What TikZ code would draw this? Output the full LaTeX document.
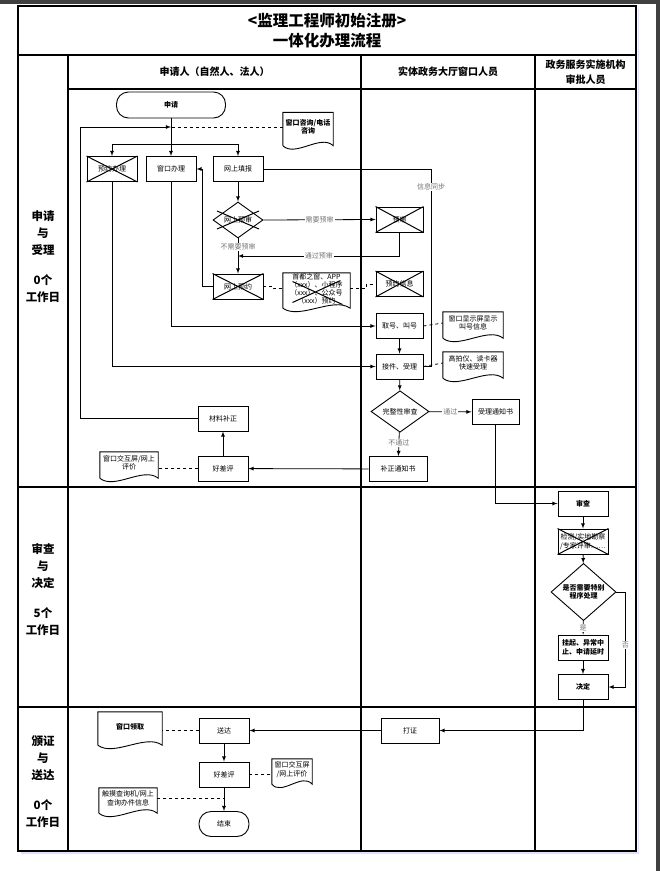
\documentclass[tikz,border=0pt]{standalone}
\usepackage{fontspec}
\setmainfont{Noto Sans CJK SC}
\usepackage{tikz}
\usetikzlibrary{arrows}
\usetikzlibrary{shapes.geometric,calc}

% outline of a document node: straight top and sides, wavy bottom
\newcommand{\docframe}[1]{%
  \draw[line width=0.9pt] ($(#1.south west)+(0,4)$) -- (#1.north west) -- (#1.north east) -- ($(#1.south east)+(0,4)$)
    .. controls ($(#1.south)!.5!(#1.south east)+(0,-8)$) and ($(#1.south)!.5!(#1.south west)+(0,16)$) .. ($(#1.south west)+(0,4)$);}

\begin{document}
\begin{tikzpicture}[x=1pt,y=-1pt,>=latex,
  every node/.style={font=\fontsize{7}{8.5}\selectfont},
  heavy/.style={font=\fontsize{7}{8.5}\selectfont\bfseries},
  box/.style={draw,line width=0.9pt,minimum width=50pt,minimum height=25pt,inner sep=0pt,align=center},
  term/.style={box,rounded corners=12pt},
  dec/.style={diamond,draw,line width=0.9pt,inner sep=0pt,align=center},
  doc/.style={inner sep=0pt,align=center},
  flow/.style={->,line width=0.8pt},
  hint/.style={dashed,line width=0.8pt},
  cond/.style={fill=white,text=black!55,inner sep=1pt},
  xline/.style={line width=1pt},
  frame/.style={line width=1.2pt},
  lane/.style={font=\fontsize{10}{15}\selectfont\bfseries,align=center},
  phase/.style={font=\fontsize{11.5}{17}\selectfont\bfseries,align=center}]
  \useasboundingbox (0,0) rectangle (660,871);
  \fill[white] (0,0) rectangle (660,871);
  \fill[black!75] (0,0) rectangle (660,4);
  \fill[black!75] (656,0) rectangle (660,871);

  % frame and lanes
  \draw[blue!12,line width=1.5pt] (21,853) -- (638.5,853) -- (638.5,9);
  \draw[frame] (18,6) rectangle (636,851);
  \draw[frame] (18,55) -- (636,55);
  \draw[frame] (68,89) -- (636,89);
  \draw[frame] (68,55) -- (68,851);
  \draw[frame] (361,55) -- (361,851);
  \draw[frame] (535,55) -- (535,851);
  \draw[frame] (18,487) -- (636,487);
  \draw[frame] (18,707) -- (636,707);

  \node[font=\fontsize{15.5}{20}\selectfont\bfseries,align=center] (title) at (327,31) {<监理工程师初始注册>\\一体化办理流程};
  \node[lane] (applicant) at (214.5,72) {申请人（自然人、法人）};
  \node[lane] (hall) at (448,72) {实体政务大厅窗口人员};
  \node[lane] (agency) at (585.5,72) {政务服务实施机构\\审批人员};
  \node[phase] (phaseA) at (43,257) {申请\\与\\受理\\[13pt]0个\\工作日};
  \node[phase] (phaseB) at (43,590) {审查\\与\\决定\\[13pt]5个\\工作日};
  \node[phase] (phaseC) at (43,782) {颁证\\与\\送达\\[13pt]0个\\工作日};

  % applying and accepting
  \node[term,heavy,minimum width=109pt,minimum height=26pt] (apply) at (171,105) {申请};
  \node[doc,heavy,minimum width=50pt,minimum height=29pt] (consult) at (308,127) {窗口咨询/电话\\咨询};
  \node[box] (pre) at (112,169) {预约办理};
  \node[box] (window) at (171,169) {窗口办理};
  \node[box] (online) at (238,169) {网上填报};
  \node[dec,minimum width=50pt,minimum height=36pt] (prejudge) at (238,220) {网上预审};
  \node[box] (netbook) at (238,286.5) {网上预约};
  \node[doc,font=\fontsize{7}{8}\selectfont,minimum width=67pt,minimum height=31pt] (capital) at (316.5,288.5) {首都之窗、APP\\（xxx）、小程序\\（xxx）、公众号\\（xxx）预约};
  \node[box,minimum width=47pt] (prechk) at (399.5,219.5) {预审};
  \node[box,minimum width=47pt] (bookinfo) at (399.5,284) {预约信息};
  \node[box,minimum width=47pt] (take) at (399.5,326) {取号、叫号};
  \node[box,minimum width=47pt] (accept) at (399.5,366.5) {接件、受理};
  \node[doc,minimum width=60pt,minimum height=22pt] (showdoc) at (473,323) {窗口显示屏显示\\叫号信息};
  \node[doc,minimum width=60pt,minimum height=22pt] (scandoc) at (473,363) {高拍仪、读卡器\\快速受理};
  \node[dec,minimum width=58pt,minimum height=37pt] (complete) at (400,411.5) {完整性审查};
  \node[box,minimum width=47pt] (notice) at (495.5,412) {受理通知书};
  \node[box,minimum width=58pt] (supp) at (398,469) {补正通知书};
  \node[box] (fix) at (223,418.5) {材料补正};
  \node[box] (rate) at (223,468.5) {好差评};
  \node[doc,minimum width=58pt,minimum height=22pt] (evalA) at (129,463) {窗口交互屏/网上\\评价};

  \coordinate (split) at (171,144);
  \coordinate (loop) at (80,127);
  \draw[line width=0.8pt] (apply.south) -- (split);
  \draw[flow] (split) -- (window.north);
  \draw[flow] (split) -| (pre.north);
  \draw[flow] (split) -| (online.north);
  \draw[hint] (consult.west) -- (consult.west -| split);
  \draw[flow] (fix.west) -| (loop) -- (loop -| split);
  \draw[line width=0.8pt] (online.east) -| ($(accept.east)+(8,0)$) -- (accept.east);
  \node[cond] (sync) at (431,187) {信息同步};
  \draw[flow] (online.south) -- (prejudge.north);
  \draw[flow] (prejudge.east) -- node[cond] {需要预审} (prechk.west);
  \draw[flow] (prejudge.south) -- node[cond,pos=.25] {不需要预审} (netbook.north);
  \draw[flow] (prechk.south) |- node[cond,pos=.75] {通过预审} ($(prejudge.south)!.5!(netbook.north)$);
  \draw[flow] (netbook.west) -- ++(-10,0) |- (window.east);
  \draw[hint] (netbook.east) -- ++(10,0) |- (capital.west);
  \draw[hint] (capital.east) -- ++(16,0) |- (bookinfo.west);
  \draw[flow] (pre.south) |- (accept.west);
  \draw[flow] (window.south) |- (take.west);
  \draw[flow] (take) -- (accept);
  \draw[hint] (take.east) -- (showdoc.west);
  \draw[hint] (accept.east) -- (scandoc.west);
  \draw[flow] (accept) -- (complete);
  \draw[flow] (complete) -- node[cond] {通过} (notice);
  \draw[flow] (complete) -- node[cond,pos=.45] {不通过} (supp);
  \draw[flow] (supp) -- (rate);
  \draw[flow] (rate) -- (fix);
  \draw[hint] (rate.west) -- (rate.west -| evalA.east);

  % review and decision
  \node[box,heavy] (review) at (583,503.5) {审查};
  \node[box] (inspect) at (583,541.5) {检测/实地勘察\\/专家评审……};
  \node[dec,heavy,minimum width=65pt,minimum height=42pt] (special) at (583.5,592) {是否需要特别\\程序处理};
  \node[box,heavy] (hang) at (583,647.5) {挂起、异常中\\止、申请延时};
  \node[box,heavy] (decide) at (583,687) {决定};
  \draw[flow] (notice.south) |- (review.west);
  \draw[flow] (review) -- (inspect);
  \draw[flow] (inspect) -- (special);
  \draw[flow] (special) -- node[cond] {是} (hang);
  \draw[flow] (hang) -- (decide);
  \draw[flow] (special.east) -- ++(9,0) |- node[cond,pos=.28] {否} (decide.east);

  % certificate and delivery
  \node[box,minimum width=58pt] (cert) at (410,730.5) {打证};
  \node[box] (deliver) at (224,730.5) {送达};
  \node[doc,heavy,minimum width=64pt,minimum height=29pt] (fetch) at (130,726.5) {窗口领取};
  \node[box] (rate2) at (224,774.5) {好差评};
  \node[doc,minimum width=40pt,minimum height=21pt] (evalB) at (292,769.5) {窗口交互屏\\/网上评价};
  \node[term] (finish) at (224,824) {结束};
  \node[doc,minimum width=58pt,minimum height=21pt] (touch) at (128,798.5) {触摸查询机/网上\\查询办件信息};
  \draw[flow] (decide.south) |- (cert.east);
  \draw[flow] (cert) -- (deliver);
  \draw[hint] (deliver.west) -- (deliver.west -| fetch.east);
  \draw[flow] (deliver) -- (rate2);
  \draw[hint] (rate2.east) -- (rate2.east -| evalB.west);
  \draw[flow] (rate2) -- (finish);
  \draw[hint] (touch.east) -- (touch.east -| rate2.south);

  \docframe{consult}
  \docframe{capital}
  \docframe{showdoc}
  \docframe{scandoc}
  \docframe{evalA}
  \docframe{fetch}
  \docframe{evalB}
  \docframe{touch}

  % struck out steps
  \draw[xline] (pre.north west) -- (pre.south east) (pre.south west) -- (pre.north east);
  \draw[xline] (netbook.north west) -- (netbook.south east) (netbook.south west) -- (netbook.north east);
  \draw[xline] (prechk.north west) -- (prechk.south east) (prechk.south west) -- (prechk.north east);
  \draw[xline] (bookinfo.north west) -- (bookinfo.south east) (bookinfo.south west) -- (bookinfo.north east);
  \draw[xline] (inspect.north west) -- (inspect.south east) (inspect.south west) -- (inspect.north east);
  \draw[xline] ($(prejudge)+(-21,-9)$) -- ($(prejudge)+(21,9)$) ($(prejudge)+(-21,9)$) -- ($(prejudge)+(21,-9)$);
  \draw[xline] ($(capital)+(-24,-7)$) -- ($(capital)+(26,16)$) ($(capital)+(-24,14)$) -- ($(capital)+(24,-8)$);
\end{tikzpicture}
\end{document}
